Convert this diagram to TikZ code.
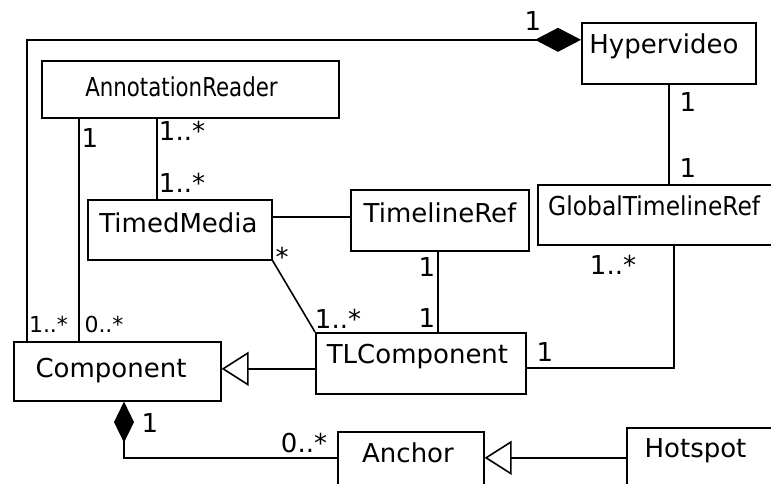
\documentclass[tikz,border=0pt]{standalone}
\usepackage{fontspec}
\setmainfont{DejaVu Sans}
\usetikzlibrary{arrows.meta}
\begin{document}
\begin{tikzpicture}[x=1pt,y=-1pt,
  cls/.style={draw, line width=1.6pt, rectangle, inner sep=0pt, anchor=north west},
  txt/.style={inner sep=0pt, anchor=base, font=\fontsize{26}{30}\selectfont},
  mult/.style={inner sep=0pt, anchor=base, font=\fontsize{26}{30}\selectfont},
  smult/.style={inner sep=0pt, anchor=base, font=\fontsize{22}{26}\selectfont},
  conn/.style={line width=1.6pt},
  compobig/.style={conn, -{Diamond[length=46pt,width=24pt]}},
  composmall/.style={conn, -{Diamond[length=41pt,width=20pt]}},
  gen/.style={conn, -{Triangle[open, length=27pt, width=34pt]}},
]
\useasboundingbox (0,0) rectangle (771,484);
\clip (0,0) rectangle (771,484);

% classes
\node[cls, minimum width=174pt, minimum height=61pt] (hv)   at (581,22)  {};
\node[cls, minimum width=297pt, minimum height=57pt] (ar)   at (41,60)   {};
\node[cls, minimum width=184pt, minimum height=60pt] (tm)   at (87,199)  {};
\node[cls, minimum width=178pt, minimum height=61pt] (tr)   at (350,189) {};
\node[cls, minimum width=260pt, minimum height=60pt] (gtr)  at (537,184) {};
\node[cls, minimum width=207pt, minimum height=59pt] (comp) at (13,341)  {};
\node[cls, minimum width=210pt, minimum height=61pt] (tlc)  at (315,332) {};
\node[cls, minimum width=146pt, minimum height=60pt] (anc)  at (337,431) {};
\node[cls, minimum width=160pt, minimum height=60pt] (hot)  at (626,427) {};

% class names
\node[txt] (hvt)   at (664,54)    {Hypervideo};
\node[txt] (art)   at (181.5,97)  {\scalebox{0.82}[1]{AnnotationReader}};
\node[txt] (tmt)   at (178.5,232) {TimedMedia};
\node[txt] (trt)   at (440,222)   {TimelineRef};
\node[txt, anchor=base west] (gtrt) at (548,215) {\scalebox{0.9}[1]{GlobalTimelineRef}};
\node[txt] (compt) at (111,377)   {Component};
\node[txt] (tlct)  at (417.5,363) {TLComponent};
\node[txt] (anct)  at (408,462)   {Anchor};
\node[txt] (hott)  at (695.5,457) {Hotspot};

% connectors
\draw[compobig] ([xshift=14pt]comp.north west) |- ([yshift=13.5pt]hv.west);
\draw[conn] ([xshift=38pt]ar.south west) -- ([xshift=66pt]comp.north west);
\draw[conn] ([xshift=116pt]ar.south west) -- ([xshift=70pt]tm.north west);
\draw[conn] ([yshift=13pt]tm.east) -- ([yshift=3.5pt]tr.west);
\draw[conn] (tm.south east) -- (tlc.north west);
\draw[conn] ([xshift=88pt]tr.south west) -- ([xshift=123pt]tlc.north west);
\draw[gen] ([yshift=-5.5pt]tlc.west) -- ([yshift=2.5pt]comp.east);
\draw[conn] ([xshift=137pt]gtr.south west) |- ([yshift=-4.5pt]tlc.east);
\draw[conn] ([xshift=88pt]hv.south west) -- ([xshift=132pt]gtr.north west);
\draw[composmall] ([yshift=4pt]anc.west) -| ([xshift=111pt]comp.south west);
\draw[gen] (hot.west) -- ([yshift=4pt]anc.east);

% multiplicities
\node[mult] (m1)  at (533,31)   {1};
\node[mult] (m2)  at (90,147)   {1};
\node[mult] (m3)  at (182,141)  {1..*};
\node[mult] (m4)  at (182,193)  {1..*};
\node[smult] (m5) at (48.5,332) {1..*};
\node[smult] (m6) at (104,332)  {0..*};
\node[mult] (m7)  at (282,266)  {*};
\node[mult] (m8)  at (338,328)  {1..*};
\node[mult] (m9)  at (427,276)  {1};
\node[mult] (m10) at (427,327)  {1};
\node[mult] (m11) at (545,361)  {1};
\node[mult] (m12) at (613,274)  {1..*};
\node[mult] (m13) at (688,112)  {1};
\node[mult] (m14) at (688,177)  {1};
\node[mult] (m15) at (150,432)  {1};
\node[mult] (m16) at (304,452)  {0..*};
\end{tikzpicture}
\end{document}
